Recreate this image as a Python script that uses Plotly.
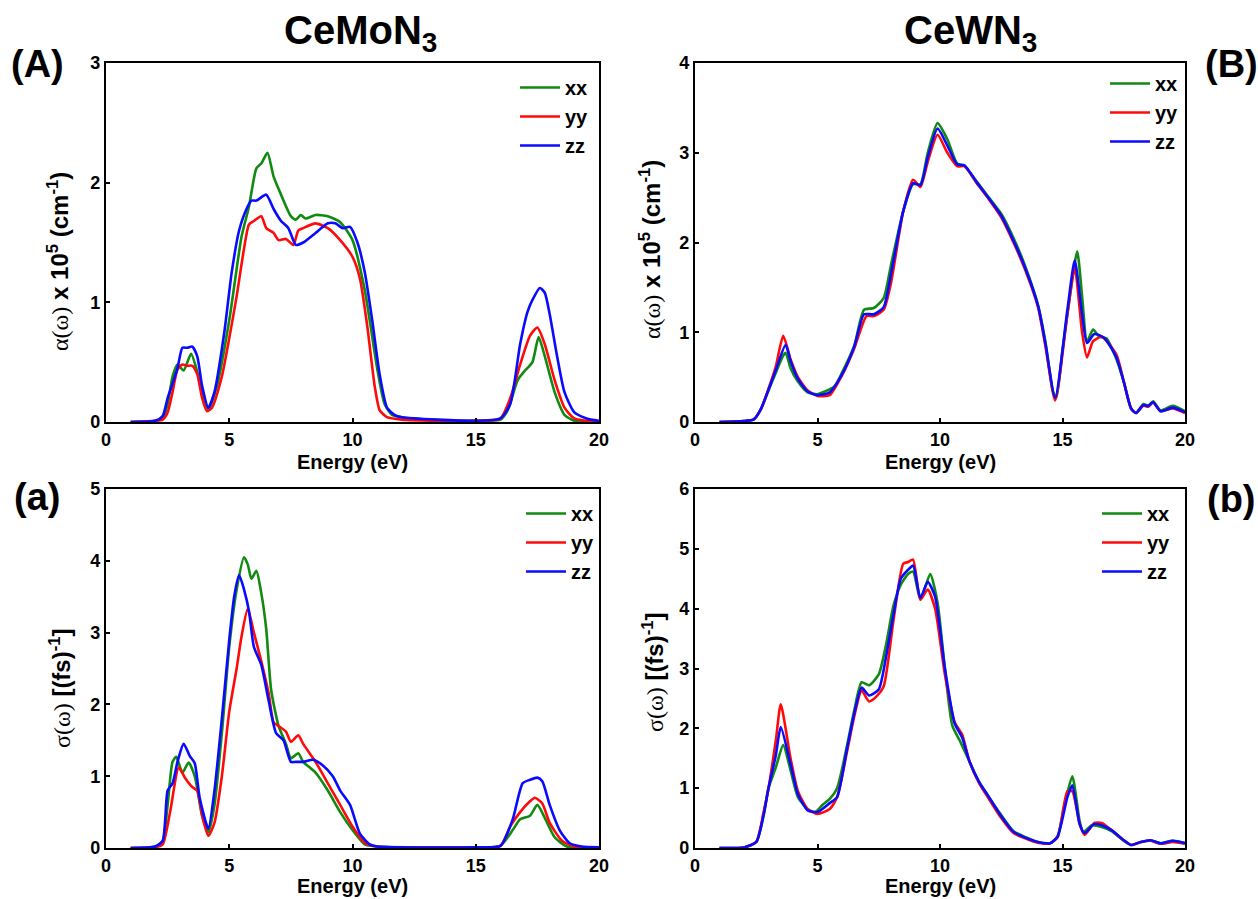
import plotly.graph_objects as go

W, H = 1258, 899

# ---------------- Data ----------------
# Panel A: absorption alpha, CeMoN3
A_xx_x = [1, 2, 2.3, 2.5, 2.7, 2.9, 3.15, 3.45, 3.7, 4.0, 4.15, 4.5, 5.0, 5.5, 5.8, 6.1, 6.3, 6.55, 6.8, 7.1, 7.5, 7.7, 7.9, 8.1, 8.5, 9.0, 9.5, 10.0, 10.5, 11.0, 11.3, 11.6, 12, 13, 15, 16, 16.3, 16.7, 17.0, 17.3, 17.55, 17.8, 18.2, 18.6, 19, 20]
A_xx_y = [0, 0.01, 0.03, 0.15, 0.38, 0.48, 0.43, 0.57, 0.42, 0.15, 0.11, 0.3, 0.85, 1.55, 1.8, 2.12, 2.16, 2.25, 2.05, 1.9, 1.72, 1.69, 1.73, 1.7, 1.73, 1.72, 1.67, 1.52, 1.1, 0.45, 0.15, 0.06, 0.04, 0.02, 0.01, 0.02, 0.1, 0.35, 0.43, 0.5, 0.71, 0.55, 0.25, 0.06, 0.01, 0]
A_yy_x = [1, 2, 2.3, 2.5, 2.7, 2.9, 3.1, 3.3, 3.5, 3.7, 3.9, 4.1, 4.3, 4.7, 5.0, 5.3, 5.6, 5.8, 6.0, 6.3, 6.5, 6.8, 7.0, 7.3, 7.6, 7.8, 8.0, 8.5, 9.0, 9.5, 10.0, 10.3, 10.6, 10.9, 11.1, 11.4, 12, 15, 16, 16.4, 16.8, 17.2, 17.5, 17.8, 18.2, 18.6, 19, 20]
A_yy_y = [0, 0.01, 0.02, 0.08, 0.25, 0.44, 0.48, 0.47, 0.47, 0.4, 0.2, 0.09, 0.12, 0.38, 0.7, 1.05, 1.45, 1.65, 1.68, 1.72, 1.62, 1.58, 1.52, 1.53, 1.48, 1.6, 1.62, 1.66, 1.62, 1.52, 1.38, 1.2, 0.8, 0.3, 0.1, 0.04, 0.02, 0.01, 0.03, 0.2, 0.48, 0.72, 0.79, 0.65, 0.35, 0.12, 0.03, 0]
A_zz_x = [1, 2, 2.3, 2.5, 2.7, 2.9, 3.1, 3.3, 3.5, 3.7, 3.9, 4.15, 4.4, 4.8, 5.1, 5.4, 5.7, 5.9, 6.1, 6.5, 6.8, 7.1, 7.4, 7.7, 8.0, 8.5, 9.0, 9.3, 9.6, 9.9, 10.2, 10.5, 10.8, 11.1, 11.4, 11.7, 12, 15, 16, 16.4, 16.8, 17.1, 17.3, 17.6, 17.8, 18.0, 18.3, 18.6, 19, 19.5, 20]
A_zz_y = [0, 0.01, 0.05, 0.2, 0.32, 0.45, 0.62, 0.62, 0.63, 0.55, 0.3, 0.12, 0.25, 0.75, 1.25, 1.6, 1.78, 1.85, 1.85, 1.9, 1.78, 1.68, 1.62, 1.48, 1.5, 1.58, 1.66, 1.66, 1.62, 1.63, 1.5, 1.25, 0.85, 0.4, 0.12, 0.06, 0.04, 0.01, 0.03, 0.15, 0.65, 0.92, 1.02, 1.12, 1.08, 0.9, 0.55, 0.25, 0.08, 0.03, 0.01]

# Panel B: absorption alpha, CeWN3
B_xx_x = [1, 2, 2.4, 2.7, 3.0, 3.3, 3.6, 3.7, 3.9, 4.2, 4.6, 5.0, 5.3, 5.7, 6.0, 6.5, 6.9, 7.3, 7.7, 8.0, 8.5, 8.9, 9.2, 9.5, 9.9, 10.3, 10.7, 11.0, 11.5, 12.0, 12.5, 13.0, 13.5, 14.0, 14.3, 14.6, 14.75, 15.0, 15.3, 15.6, 15.8, 16.0, 16.25, 16.5, 16.8, 17.2, 17.5, 17.8, 18.0, 18.3, 18.5, 18.7, 19.0, 19.5, 20]
B_xx_y = [0, 0.01, 0.03, 0.15, 0.35, 0.55, 0.74, 0.77, 0.6, 0.45, 0.33, 0.31, 0.34, 0.4, 0.55, 0.85, 1.25, 1.27, 1.38, 1.75, 2.35, 2.65, 2.65, 3.0, 3.33, 3.15, 2.88, 2.85, 2.68, 2.5, 2.32, 2.05, 1.72, 1.3, 0.9, 0.35, 0.27, 0.8, 1.4, 1.9, 1.4, 0.9, 1.03, 0.95, 0.93, 0.7, 0.45, 0.15, 0.1, 0.2, 0.18, 0.23, 0.13, 0.18, 0.12]
B_yy_x = [1, 2, 2.4, 2.7, 3.0, 3.3, 3.6, 3.9, 4.2, 4.6, 5.0, 5.5, 6.0, 6.5, 7.0, 7.3, 7.7, 8.0, 8.5, 8.9, 9.2, 9.5, 9.9, 10.3, 10.7, 11.0, 11.5, 12.0, 12.5, 13.0, 13.5, 14.0, 14.3, 14.7, 15.2, 15.5, 15.8, 16.0, 16.25, 16.6, 17.2, 17.5, 17.8, 18.0, 18.3, 18.5, 18.7, 19.0, 19.5, 20]
B_yy_y = [0, 0.01, 0.03, 0.15, 0.37, 0.62, 0.96, 0.7, 0.5, 0.35, 0.29, 0.3, 0.52, 0.82, 1.18, 1.18, 1.25, 1.55, 2.35, 2.7, 2.62, 2.9, 3.2, 3.0, 2.85, 2.85, 2.66, 2.48, 2.28, 2.0, 1.68, 1.28, 0.85, 0.24, 1.2, 1.72, 1.0, 0.72, 0.9, 0.95, 0.75, 0.45, 0.15, 0.1, 0.18, 0.17, 0.22, 0.12, 0.15, 0.1]
B_zz_x = [1, 2, 2.4, 2.7, 3.0, 3.3, 3.7, 3.9, 4.2, 4.6, 5.0, 5.5, 6.0, 6.5, 6.9, 7.3, 7.7, 8.0, 8.5, 8.9, 9.2, 9.5, 9.9, 10.3, 10.7, 11.0, 11.5, 12.0, 12.5, 13.0, 13.5, 14.0, 14.3, 14.7, 15.2, 15.5, 15.8, 16.0, 16.3, 16.7, 17.2, 17.5, 17.8, 18.0, 18.3, 18.5, 18.7, 19.0, 19.5, 20]
B_zz_y = [0, 0.01, 0.03, 0.15, 0.36, 0.58, 0.86, 0.68, 0.48, 0.34, 0.3, 0.33, 0.53, 0.84, 1.2, 1.2, 1.28, 1.65, 2.35, 2.66, 2.64, 2.95, 3.27, 3.08, 2.87, 2.86, 2.67, 2.49, 2.3, 2.02, 1.7, 1.3, 0.88, 0.27, 1.25, 1.8, 1.2, 0.88, 0.98, 0.94, 0.72, 0.45, 0.15, 0.1, 0.19, 0.18, 0.22, 0.12, 0.16, 0.11]

# Panel a: optical conductivity sigma, CeMoN3
a_xx_x = [1, 2, 2.3, 2.5, 2.7, 2.85, 3.1, 3.35, 3.6, 3.9, 4.15, 4.4, 4.7, 5.0, 5.3, 5.6, 5.75, 5.9, 6.1, 6.3, 6.5, 6.7, 7.0, 7.3, 7.5, 7.8, 8.0, 8.5, 9.0, 9.5, 10.0, 10.5, 11, 15, 16, 16.5, 16.8, 17.2, 17.5, 17.8, 18.2, 18.7, 20]
a_xx_y = [0, 0.02, 0.1, 0.6, 1.2, 1.27, 1.05, 1.19, 1.0, 0.45, 0.22, 0.6, 1.6, 2.8, 3.6, 4.05, 3.95, 3.75, 3.86, 3.55, 3.05, 2.2, 1.7, 1.45, 1.25, 1.32, 1.2, 1.05, 0.8, 0.5, 0.25, 0.05, 0.02, 0.01, 0.03, 0.25, 0.4, 0.45, 0.6, 0.42, 0.15, 0.02, 0]
a_yy_x = [1, 2, 2.3, 2.6, 2.95, 3.2, 3.5, 3.7, 3.9, 4.15, 4.4, 4.7, 5.0, 5.3, 5.5, 5.75, 6.0, 6.3, 6.6, 6.8, 7.0, 7.3, 7.5, 7.8, 8.0, 8.5, 9.0, 9.5, 10.0, 10.5, 11, 15, 16, 16.4, 16.8, 17.2, 17.4, 17.7, 18.0, 18.5, 19, 20]
a_yy_y = [0, 0.01, 0.05, 0.5, 1.12, 0.98, 0.85, 0.8, 0.45, 0.17, 0.35, 1.0, 1.9, 2.5, 2.95, 3.33, 3.0, 2.6, 2.15, 1.75, 1.7, 1.62, 1.48, 1.57, 1.45, 1.2, 0.9, 0.6, 0.3, 0.07, 0.02, 0.01, 0.03, 0.3, 0.5, 0.65, 0.7, 0.62, 0.35, 0.1, 0.02, 0]
a_zz_x = [1, 2, 2.3, 2.5, 2.7, 2.9, 3.15, 3.4, 3.6, 3.8, 4.15, 4.4, 4.7, 5.0, 5.2, 5.4, 5.6, 5.8, 6.0, 6.3, 6.6, 6.9, 7.2, 7.5, 7.7, 8.0, 8.4, 8.8, 9.2, 9.5, 9.9, 10.3, 10.7, 11, 15, 16, 16.5, 16.9, 17.2, 17.5, 17.7, 18, 18.4, 18.8, 19.3, 20]
a_zz_y = [0, 0.02, 0.1, 0.8, 0.9, 1.2, 1.45, 1.28, 1.18, 0.7, 0.27, 0.8, 1.8, 2.9, 3.5, 3.8, 3.6, 3.3, 2.8, 2.55, 2.05, 1.6, 1.5, 1.2, 1.2, 1.2, 1.23, 1.15, 1.0, 0.8, 0.6, 0.2, 0.05, 0.02, 0.01, 0.03, 0.4, 0.9, 0.95, 0.98, 0.93, 0.6, 0.25, 0.07, 0.02, 0.01]

# Panel b: optical conductivity sigma, CeWN3
b_xx_x = [1, 2, 2.5, 2.8, 3.0, 3.3, 3.6, 3.9, 4.2, 4.6, 4.9, 5.2, 5.5, 5.8, 6.2, 6.5, 6.8, 7.1, 7.5, 7.8, 8.1, 8.4, 8.7, 8.9, 9.2, 9.6, 9.9, 10.2, 10.5, 10.8, 11.2, 11.6, 12.0, 12.5, 13.0, 13.5, 14, 14.5, 14.8, 15.1, 15.4, 15.7, 15.85, 16.2, 16.6, 17.0, 17.5, 17.8, 18.2, 18.6, 19.0, 19.5, 20]
b_xx_y = [0, 0.01, 0.1, 0.55, 1.0, 1.35, 1.72, 1.3, 0.85, 0.65, 0.6, 0.72, 0.82, 1.0, 1.7, 2.3, 2.77, 2.72, 2.9, 3.4, 4.05, 4.4, 4.58, 4.62, 4.15, 4.58, 4.1, 3.0, 2.05, 1.8, 1.45, 1.1, 0.85, 0.55, 0.28, 0.18, 0.1, 0.08, 0.2, 0.75, 1.2, 0.45, 0.27, 0.38, 0.35, 0.28, 0.12, 0.05, 0.1, 0.13, 0.08, 0.12, 0.08]
b_yy_x = [1, 2, 2.5, 2.8, 3.0, 3.3, 3.5, 3.9, 4.2, 4.6, 5.0, 5.5, 5.8, 6.2, 6.5, 6.8, 7.1, 7.4, 7.7, 8.1, 8.5, 8.7, 8.9, 9.2, 9.5, 9.8, 10.2, 10.6, 10.9, 11.2, 11.6, 12.0, 12.5, 13.0, 13.5, 14, 14.5, 14.8, 15.2, 15.4, 15.7, 15.9, 16.3, 16.6, 17.0, 17.5, 17.8, 18.2, 18.6, 19.0, 19.5, 20]
b_yy_y = [0, 0.01, 0.1, 0.6, 1.0, 1.8, 2.4, 1.5, 0.95, 0.65, 0.57, 0.65, 0.85, 1.6, 2.2, 2.63, 2.45, 2.53, 2.7, 3.8, 4.75, 4.78, 4.82, 4.15, 4.32, 4.0, 2.9, 2.1, 1.9, 1.45, 1.08, 0.82, 0.5, 0.25, 0.16, 0.09, 0.08, 0.18, 0.95, 0.95, 0.4, 0.22, 0.42, 0.42, 0.3, 0.13, 0.05, 0.1, 0.12, 0.07, 0.1, 0.07]
b_zz_x = [1, 2, 2.5, 2.8, 3.0, 3.3, 3.5, 3.9, 4.2, 4.6, 5.0, 5.5, 5.8, 6.2, 6.5, 6.8, 7.1, 7.5, 7.8, 8.1, 8.4, 8.7, 8.9, 9.2, 9.5, 9.8, 10.2, 10.6, 10.9, 11.2, 11.6, 12.0, 12.5, 13.0, 13.5, 14, 14.5, 14.8, 15.2, 15.4, 15.7, 15.9, 16.3, 16.6, 17.0, 17.5, 17.8, 18.2, 18.6, 19.0, 19.5, 20]
b_zz_y = [0, 0.01, 0.1, 0.55, 1.0, 1.55, 2.02, 1.4, 0.9, 0.63, 0.6, 0.75, 0.85, 1.65, 2.25, 2.68, 2.55, 2.65, 3.2, 3.9, 4.5, 4.65, 4.72, 4.18, 4.45, 4.2, 3.0, 2.08, 1.85, 1.45, 1.1, 0.85, 0.53, 0.27, 0.17, 0.1, 0.08, 0.19, 0.85, 1.05, 0.4, 0.25, 0.4, 0.38, 0.3, 0.13, 0.05, 0.1, 0.13, 0.08, 0.12, 0.08]

components = ["xx", "yy", "zz"]
colors = {"xx": "#108a10", "yy": "#ff0a0a", "zz": "#0a0aff"}

x_ticks = [0, 5, 10, 15, 20]
A_yticks = [0, 1, 2, 3]
B_yticks = [0, 1, 2, 3, 4]
a_yticks = [0, 1, 2, 3, 4, 5]
b_yticks = [0, 1, 2, 3, 4, 5, 6]

titles = ["CeMoN<sub>3</sub>", "CeWN<sub>3</sub>"]
panel_labels = ["(A)", "(B)", "(a)", "(b)"]
alpha_title = "<span style='font-family:Liberation Serif'>\u03b1(\u03c9)</span><b> x 10<sup>5</sup> (cm<sup>-1</sup>)</b>"
sigma_title = "<span style='font-family:Liberation Serif'>\u03c3(\u03c9)</span><b> [(fs)<sup>-1</sup>]</b>"
energy_title = "<b>Energy (eV)</b>"

# ---------------- Layout geometry (page pixels -> paper) ----------------
def px_x(p):
    return p / W

def px_y(p):
    return 1 - p / H

col_dom = [[px_x(106), px_x(599)], [px_x(695), px_x(1185)]]
row_dom = [[px_y(422), px_y(63)], [px_y(848), px_y(489)]]

panels = [
    dict(data={"xx": (A_xx_x, A_xx_y), "yy": (A_yy_x, A_yy_y), "zz": (A_zz_x, A_zz_y)},
         yrange=[0, 3], yticks=A_yticks, col=0, row=0),
    dict(data={"xx": (B_xx_x, B_xx_y), "yy": (B_yy_x, B_yy_y), "zz": (B_zz_x, B_zz_y)},
         yrange=[0, 4], yticks=B_yticks, col=1, row=0),
    dict(data={"xx": (a_xx_x, a_xx_y), "yy": (a_yy_x, a_yy_y), "zz": (a_zz_x, a_zz_y)},
         yrange=[0, 5], yticks=a_yticks, col=0, row=1),
    dict(data={"xx": (b_xx_x, b_xx_y), "yy": (b_yy_x, b_yy_y), "zz": (b_zz_x, b_zz_y)},
         yrange=[0, 6], yticks=b_yticks, col=1, row=1),
]

FONT = "Liberation Sans, Arial, sans-serif"
fig = go.Figure()
layout = dict(
    width=W, height=H, margin=dict(l=0, r=0, t=0, b=0, pad=0, autoexpand=False),
    paper_bgcolor="white", plot_bgcolor="white",
    font=dict(family=FONT, color="black"),
    showlegend=True, annotations=[],
)

legend_pos = [(594, 68), (1184, 64), (600, 494), (1176, 494)]

for i, p in enumerate(panels):
    n = "" if i == 0 else str(i + 1)
    xa, ya = "x" + n, "y" + n
    lg = "legend" + n
    for c in components:
        xs, ys = p["data"][c]
        fig.add_trace(go.Scatter(
            x=xs, y=ys, mode="lines", name="<b>%s</b>" % c,
            line=dict(color=colors[c], width=2.6, shape="spline", smoothing=0.6),
            xaxis=xa, yaxis=ya, legend=lg,
        ))
    axis_common = dict(
        showline=True, linecolor="black", linewidth=2.4, mirror=True,
        ticks="inside", ticklen=4, tickwidth=2, tickcolor="black",
        showgrid=False, zeroline=False, automargin=False,
        tickfont=dict(family=FONT, size=18, color="black", weight="bold"),
    )
    layout["xaxis" + n] = dict(axis_common, domain=col_dom[p["col"]], range=[0, 20],
                               tickvals=x_ticks, anchor=ya)
    layout["yaxis" + n] = dict(axis_common, domain=row_dom[p["row"]], range=p["yrange"],
                               tickvals=p["yticks"], anchor=xa)
    lx, ly = legend_pos[i]
    layout[lg] = dict(x=px_x(lx), y=px_y(ly), xanchor="right", yanchor="top",
                      bgcolor="rgba(0,0,0,0)", font=dict(family=FONT, size=20, color="black"),
                      tracegroupgap=0, itemwidth=40)

# Titles
for t, cx in zip(titles, [360, 970]):
    layout["annotations"].append(dict(text="<b>%s</b>" % t, x=px_x(cx), y=px_y(33), xref="paper", yref="paper",
                                      showarrow=False, font=dict(family=FONT, size=40), xanchor="center", yanchor="middle"))
# Panel labels
for lab, (cx, cy) in zip(panel_labels, [(37, 64), (1231, 64), (37, 497), (1231, 499)]):
    layout["annotations"].append(dict(text="<b>%s</b>" % lab, x=px_x(cx), y=px_y(cy), xref="paper", yref="paper",
                                      showarrow=False, font=dict(family=FONT, size=38), xanchor="center", yanchor="middle"))
# Axis titles
for cx, cy in [(352, 462), (940, 462), (352, 886), (940, 886)]:
    layout["annotations"].append(dict(text=energy_title, x=px_x(cx), y=px_y(cy), xref="paper", yref="paper",
                                      showarrow=False, font=dict(family=FONT, size=20), xanchor="center", yanchor="middle"))
for txt, cx, cy in [(alpha_title, 58, 262), (alpha_title, 650, 250), (sigma_title, 60, 688), (sigma_title, 653, 672)]:
    layout["annotations"].append(dict(text=txt, x=px_x(cx), y=px_y(cy), xref="paper", yref="paper", textangle=-90,
                                      showarrow=False, font=dict(family=FONT, size=24), xanchor="center", yanchor="middle"))

fig.update_layout(**layout)
# Remove the default page margin so the 1258x899 figure fills the window exactly.
fig.write_html("out.html",
               config={"displayModeBar": False},
               post_script="document.body.style.margin='0';document.body.style.overflow='hidden';")
